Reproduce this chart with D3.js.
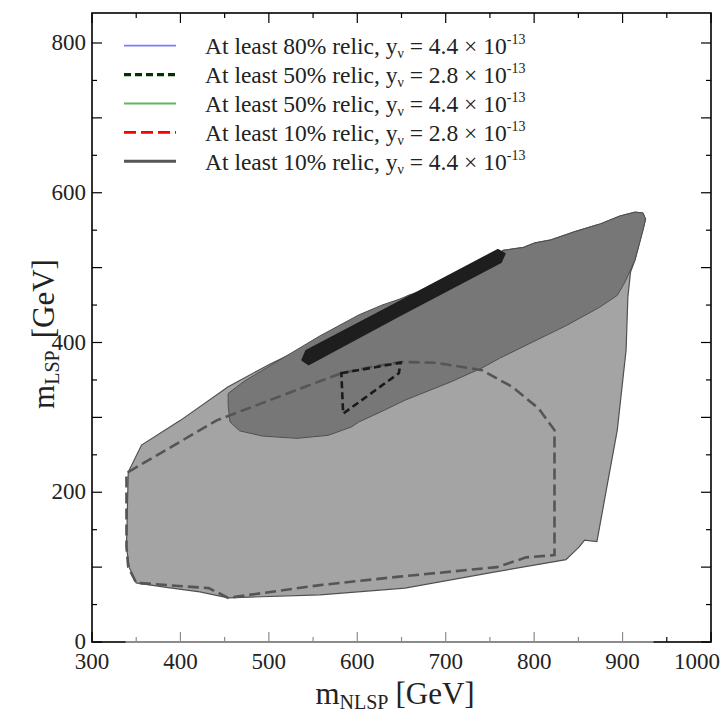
<!DOCTYPE html>
<html><head><meta charset="utf-8">
<script src="https://cdn.jsdelivr.net/npm/d3@7"></script>
<style>body{margin:0;background:#fff}svg{display:block}text{font-family:"Liberation Serif","Times New Roman",serif;fill:#222}</style>
</head><body>
<svg id="c" width="721" height="713"></svg>
<script>
// ---- data (GeV) ----
const xTickValues = [300,400,500,600,700,800,900,1000];
const yTickValues = [0,200,400,600,800];
const legendPercent = ["80%","50%","50%","10%","10%"];
const legendYukawa = ["4.4","2.8","4.4","2.8","4.4"];

// region allowed for at least 10% relic, y = 4.4e-13 (light grey)
const region10 = [[339,127],[341,227],[356,263],[400,296],[454,341],[501,371],[541,394],[580,419],[620,442],[658,463],[694,477],[732,497],[765,523],[788,527],[801,533],[819,537],[846,548],[874,558],[897,569],[914,574],[923,573],[926,565],[923,550],[914,510],[909,494],[906,461],[904,390],[894,283],[879,186],[871,134],[857,136],[851,127],[836,110],[753,93],[654,72],[558,63],[454,59],[422,67],[384,73],[350,79],[342,100]];
// region for at least 50% relic, y = 4.4e-13 (dark grey)
const region50 = [[454,332],[473,349],[493,363],[524,385],[558,409],[602,437],[628,450],[658,462],[694,477],[732,497],[765,523],[788,527],[801,533],[819,537],[846,548],[874,558],[897,569],[914,574],[923,573],[926,565],[923,550],[914,510],[902,479],[894,463],[874,447],[837,423],[799,401],[761,379],[741,366],[705,347],[654,323],[626,307],[602,294],[593,287],[567,276],[532,272],[493,275],[467,282],[456,294],[454,316]];
// region for at least 80% relic, y = 4.4e-13 (black band)
const region80 = [[537.5,376.6],[542,389],[648,455],[759,524],[767,518.5],[762.5,507],[648,436],[545,370.5]];
// contour at least 10% relic, y = 2.8e-13 (dashed)
const contour10 = [[341,227],[441,296],[490,318],[541,341],[582,359],[614,367],[649,374],[689,373],[741,363],[775,341],[805,312],[823,283],[823,116],[791,113],[758,100],[645,87],[558,76],[454,59],[432,72],[385,76],[350,79],[341,100],[339,127],[339,226]];
// contour at least 50% relic, y = 2.8e-13 (dashed black)
const contour50 = [[582,359],[649,373],[647,359],[584,305]];

// ---- layout ----
const svg = d3.select("#c");
const L=92, R=711, T=13, B=642;
const x = d3.scaleLinear().domain([300,1000]).range([L,R]);
const y = d3.scaleLinear().domain([0,800]).range([B,43]);
const line = d3.line().x(d=>x(d[0])).y(d=>y(d[1])).curve(d3.curveLinearClosed);

const plot = svg.append("g");
plot.append("path").attr("d",line(region10)).attr("fill","#a4a4a4").attr("stroke","#505050").attr("stroke-width",1.2);
plot.append("path").attr("d",line(region50)).attr("fill","#777777").attr("stroke","#505050").attr("stroke-width",1);
plot.append("path").attr("d",line(region80)).attr("fill","#1e1e1e").attr("stroke","#1e1e1e").attr("stroke-width",1.5).attr("stroke-linejoin","round");
plot.append("path").attr("d",line(contour10)).attr("fill","none").attr("stroke","#555").attr("stroke-width",2.6).attr("stroke-dasharray","11,5");
plot.append("path").attr("d",line(contour50)).attr("fill","none").attr("stroke","#1a1a1a").attr("stroke-width",2.6).attr("stroke-dasharray","7,4");

// ---- axes ----
const xMinor = d3.range(300,1001,50), yMinor = d3.range(0,841,50);
function tickLen(v){return v%100===0?10:5;}
const ax = svg.append("g");
const greyStrip=[338,935];
ax.selectAll(".xb").data(xMinor).join("line").attr("x1",d=>x(d)).attr("x2",d=>x(d)).attr("y1",B).attr("y2",d=>B-tickLen(d))
  .attr("stroke",d=>(d>greyStrip[0]&&d<greyStrip[1])?"#8c8c8c":"#000").attr("stroke-width",1.2);
ax.selectAll(".xt").data(xMinor).join("line").attr("x1",d=>x(d)).attr("x2",d=>x(d)).attr("y1",T).attr("y2",d=>T+tickLen(d)).attr("stroke","#000").attr("stroke-width",1.2);
ax.selectAll(".yl").data(yMinor.filter(v=>y(v)>=T)).join("line").attr("y1",d=>y(d)).attr("y2",d=>y(d)).attr("x1",L).attr("x2",d=>L+tickLen(d)).attr("stroke","#000").attr("stroke-width",1.2);
ax.selectAll(".yr").data(yMinor.filter(v=>y(v)>=T)).join("line").attr("y1",d=>y(d)).attr("y2",d=>y(d)).attr("x1",R).attr("x2",d=>R-tickLen(d)).attr("stroke","#000").attr("stroke-width",1.2);
ax.append("rect").attr("x",L).attr("y",T).attr("width",R-L).attr("height",B-T).attr("fill","none").attr("stroke","#000").attr("stroke-width",1.6);
ax.append("line").attr("x1",x(greyStrip[0])).attr("x2",x(greyStrip[1])).attr("y1",B).attr("y2",B).attr("stroke","#8c8c8c").attr("stroke-width",2.2);

ax.selectAll(".xlab").data(xTickValues).join("text")
  .attr("x",(d,i)=>i===xTickValues.length-1?720:x(d))
  .attr("y",B+27)
  .attr("text-anchor",(d,i)=>i===xTickValues.length-1?"end":"middle")
  .attr("font-size",23).text(d=>d);
ax.selectAll(".ylab").data(yTickValues).join("text").attr("x",L-6).attr("y",d=>y(d)+7).attr("text-anchor","end").attr("font-size",23).text(d=>d);

// axis titles
const xt = svg.append("text").attr("x",395).attr("y",704).attr("text-anchor","middle").attr("font-size",31);
xt.append("tspan").text("m");
xt.append("tspan").attr("font-size",20).attr("dy",5).text("NLSP");
xt.append("tspan").attr("dy",-5).attr("dx",7).text("[GeV]");
const yt = svg.append("g").attr("transform","translate(54,334) rotate(-90)");
const ytt = yt.append("text").attr("text-anchor","middle").attr("font-size",31);
ytt.append("tspan").text("m");
ytt.append("tspan").attr("font-size",20).attr("dy",5).text("LSP");
ytt.append("tspan").attr("dy",-5).attr("dx",12).text("[GeV]");

// ---- legend ----
const legStyles = [
  {c:"#7b7bff",w:1.8,dash:null},
  {c:"#003300",w:3.2,dash:"7,4"},
  {c:"#5cb85c",w:1.8,dash:null},
  {c:"#ff0000",w:2.6,dash:"12,5"},
  {c:"#555555",w:3,dash:null}
];
const lg = svg.append("g");
legendPercent.forEach((p,i)=>{
  const cy = 45.7 + i*28.9;
  const s = legStyles[i];
  const ln = lg.append("line").attr("x1",124).attr("x2",176).attr("y1",cy).attr("y2",cy).attr("stroke",s.c).attr("stroke-width",s.w);
  if(s.dash) ln.attr("stroke-dasharray",s.dash);
  const t = lg.append("text").attr("x",205).attr("y",cy+8.5).attr("font-size",23.5);
  t.append("tspan").text("At least "+p+" relic, y");
  t.append("tspan").attr("font-size",14).attr("dy",4).text("ν");
  t.append("tspan").attr("dy",-4).text("\u00a0=\u00a0"+legendYukawa[i]+"\u00a0×\u00a010");
  t.append("tspan").attr("font-size",14).attr("dy",-10).text("-13");
});
</script>
</body></html>
